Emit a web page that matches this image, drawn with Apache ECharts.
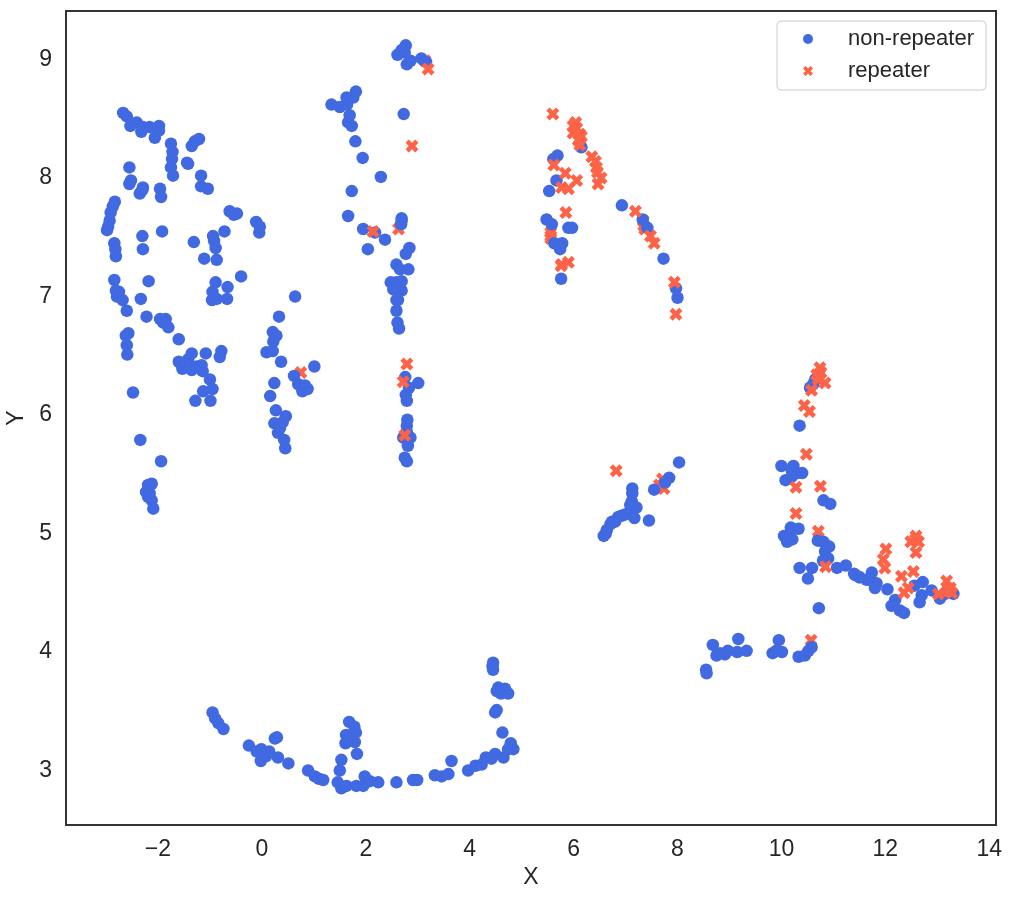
<!DOCTYPE html>
<html>
<head>
<meta charset="utf-8">
<title>scatter</title>
<style>
  html, body { margin: 0; padding: 0; background: #fff; }
  #main { width: 1012px; height: 900px; }
</style>
<script src="https://cdn.jsdelivr.net/npm/echarts@6/dist/echarts.min.js"></script>
</head>
<body>
<div id="main"></div>
<script>
const xTicks = [-2, 0, 2, 4, 6, 8, 10, 12, 14];
const yTicks = [3, 4, 5, 6, 7, 8, 9];

// left hand clusters first
const blueLeft = [
  [-2.67,8.55],[-2.60,8.52],[-2.53,8.44],[-2.41,8.47],[-2.32,8.39],[-2.29,8.43],[-2.16,8.43],[-2.06,8.34],[-1.98,8.44],[-1.98,8.40],
  [-1.75,8.29],[-1.72,8.22],[-1.73,8.16],[-1.75,8.09],[-1.71,8.02],[-1.21,8.33],[-1.29,8.31],[-1.35,8.27],[-1.42,8.12],[-1.44,8.13],
  [-1.17,8.02],[-1.17,7.93],[-1.04,7.91],[-2.55,8.09],[-2.52,7.98],[-2.55,7.95],[-2.29,7.92],[-2.35,7.87],[-2.30,7.90],[-1.96,7.91],
  [-1.94,7.84],[-2.83,7.80],[-2.87,7.76],[-2.91,7.71],[-2.93,7.64],[-2.96,7.59],[-2.98,7.56],[-2.84,7.45],[-2.82,7.40],[-2.81,7.34],
  [-2.30,7.51],[-2.29,7.40],[-1.92,7.55],[-1.31,7.46],[-1.11,7.32],[-0.87,7.31],[-0.94,7.51],[-0.92,7.47],[-0.89,7.41],[-0.72,7.55],
  [-0.62,7.72],[-0.54,7.69],[-0.48,7.70],[-0.11,7.63],[-0.04,7.59],[-0.05,7.54],[-2.84,7.14],[-2.18,7.13],[-2.81,7.05],[-2.75,7.04],
  [-2.79,7.00],[-2.68,6.97],[-2.33,6.98],[-2.60,6.88],[-2.22,6.83],[-0.89,7.12],[-0.66,7.08],[-0.95,7.04],[-0.67,6.98],[-0.96,6.97],
  [-0.87,6.98],[-0.40,7.17],[0.64,7.00],[0.33,6.83],[-1.96,6.81],[-1.85,6.81],[-1.90,6.78],[-1.80,6.74],[-1.60,6.64],[-2.57,6.69],
  [-2.62,6.67],[-2.60,6.59],[-2.59,6.51],[-2.48,6.19],[-2.34,5.79],[-1.94,5.61],[-2.12,5.42],[-2.19,5.41],[-2.23,5.35],[-2.16,5.34],
  [-2.12,5.28],[-2.09,5.21],[-2.19,5.31],[-1.35,6.52],[-1.42,6.47],[-1.60,6.45],[-1.53,6.39],[-1.35,6.38],[-1.26,6.41],[-1.16,6.42],
  [-1.14,6.37],[-1.08,6.52],[-0.78,6.54],[-0.81,6.49],[-1.00,6.30],[-0.95,6.22],[-1.13,6.20],[-1.28,6.12],[-0.99,6.12],[0.21,6.70],
  [0.28,6.67],[0.22,6.62],[0.09,6.53],[0.21,6.54],[0.37,6.45],[1.01,6.41],[0.62,6.33],[0.24,6.27],[0.70,6.26],[0.83,6.25],
  [0.88,6.22],[0.78,6.20],[0.16,6.16],[0.27,6.04],[0.46,5.99],[0.24,5.93],[0.40,5.94],[0.31,5.85],[0.43,5.79],[0.45,5.72],[0.35,5.89]
];
const blueMiddle = [
  [2.77,9.12],[2.69,9.08],[2.61,9.04],[2.75,9.06],[2.79,8.96],[2.86,8.99],[3.07,9.01],[3.16,8.98],[2.73,8.54],[1.81,8.73],
  [1.76,8.68],[1.63,8.68],[1.34,8.62],[1.50,8.60],[1.64,8.62],[1.69,8.53],[1.66,8.47],[1.73,8.44],[1.80,8.31],[1.94,8.17],
  [2.29,8.01],[1.73,7.89],[1.66,7.68],[1.95,7.57],[2.18,7.54],[2.37,7.48],[2.04,7.40],[2.69,7.66],[2.68,7.61],[2.69,7.64],
  [2.84,7.41],[2.77,7.36],[2.59,7.27],[2.66,7.23],[2.82,7.23],[2.48,7.12],[2.59,7.12],[2.69,7.13],[2.53,7.06],[2.69,7.05],
  [2.61,7.06],[2.59,6.97],[2.62,6.97],[2.59,6.88],[2.61,6.78],[2.64,6.73],[2.76,6.32],[3.01,6.27],[2.83,6.23],[2.77,6.17],
  [2.79,6.12],[2.80,5.96],[2.79,5.91],[2.79,5.86],[2.72,5.81],[2.86,5.81],[2.81,5.74],[2.75,5.64],[2.79,5.61]
];
const blueBottom = [
  [-0.95,3.49],[-0.90,3.44],[-0.84,3.40],[-0.74,3.35],[-0.25,3.21],[-0.01,3.18],[-0.10,3.16],[0.14,3.16],[-0.02,3.08],[0.03,3.14],
  [0.08,3.12],[0.25,3.27],[0.29,3.28],[0.31,3.11],[0.51,3.06],[0.89,3.00],[1.02,2.95],[1.10,2.93],[1.18,2.92],[1.46,2.90],
  [1.53,2.85],[1.63,2.87],[1.53,3.09],[1.50,3.00],[1.68,3.41],[1.78,3.37],[1.62,3.30],[1.81,3.32],[1.61,3.23],[1.79,3.24],
  [1.69,3.28],[1.83,3.14],[1.82,2.87],[1.95,2.87],[1.98,2.95],[2.08,2.91],[2.24,2.90],[2.59,2.90],[2.91,2.92],[2.99,2.92],
  [3.33,2.96],[3.46,2.95],[3.59,2.97],[3.65,3.08],[3.97,3.00],[4.11,3.04],[4.23,3.05],[4.31,3.11],[4.42,3.10],[4.49,3.14],
  [4.65,3.11],[4.74,3.18],[4.84,3.18],[4.79,3.23],[4.63,3.32],[4.52,3.51],[4.49,3.49],[4.45,3.91],[4.44,3.88],[4.45,3.85],
  [4.55,3.70],[4.52,3.67],[4.60,3.65],[4.68,3.69],[4.74,3.65]
];
const blueRight = [
  [6.15,8.26],[5.69,8.19],[5.61,8.16],[5.67,7.98],[5.53,7.89],[6.93,7.77],[7.33,7.65],[7.42,7.58],[7.73,7.32],[7.97,7.07],
  [8.00,6.99],[5.48,7.65],[5.58,7.61],[5.90,7.58],[5.97,7.58],[5.63,7.45],[5.78,7.45],[5.74,7.40],[5.72,7.43],[5.76,7.15],
  [8.03,5.60],[7.84,5.47],[7.76,5.43],[7.55,5.37],[7.45,5.11],[7.13,5.38],[7.13,5.34],[7.12,5.27],[7.09,5.24],[7.21,5.22],
  [7.17,5.13],[7.09,5.19],[6.99,5.16],[6.86,5.14],[6.80,5.10],[6.71,5.08],[6.64,5.03],[6.58,4.98],[6.62,5.00],[6.74,5.10],
  [6.92,5.15],[7.12,5.17],[10.65,6.30],[10.55,6.23],[10.61,6.26],[10.35,5.91],[10.00,5.57],[10.23,5.57],[10.20,5.53],[10.40,5.51],
  [10.30,5.51],[10.08,5.45],[10.20,5.48],[10.81,5.28],[10.94,5.25],[10.18,5.05],[10.33,5.04],[10.05,4.98],[10.21,4.95],[10.11,4.93],
  [10.17,5.00],[10.70,4.94],[10.81,4.93],[10.92,4.89],[10.84,4.85],[10.90,4.79],[10.80,4.77],[10.35,4.71],[10.59,4.71],[10.51,4.62],
  [11.07,4.71],[11.24,4.73],[11.40,4.66],[11.51,4.63],[11.64,4.61],[10.72,4.37],[11.42,4.65],[11.50,4.63],[11.74,4.67],[11.71,4.61],
  [11.83,4.58],[11.80,4.54],[12.04,4.53],[12.19,4.44],[12.12,4.39],[12.28,4.35],[12.36,4.33],[12.56,4.56],[12.72,4.59],[12.70,4.48],
  [12.66,4.42],[12.89,4.52],[13.05,4.45],[13.21,4.54],[13.31,4.49],[13.15,4.49],[8.55,3.85],[8.56,3.82],[8.68,4.06],[8.75,3.97],
  [8.82,3.99],[8.97,4.01],[8.91,3.98],[9.17,4.11],[9.15,4.00],[9.33,4.01],[9.95,4.10],[9.83,3.99],[10.01,4.00],[9.90,4.01],
  [10.33,3.96],[10.45,3.97],[10.52,4.01],[10.58,4.04]
];
const nonRepeater = [...blueLeft, ...blueMiddle, ...blueBottom, ...blueRight];

// repeaters that sit behind the blue dots
const repeaterBehind = [
  [0.75,6.36],[2.63,7.57],[3.14,8.99],[5.56,7.54],[5.56,7.51],[5.56,7.49],[7.34,7.64],[7.37,7.57],[7.35,7.60],[7.71,5.46],
  [7.74,5.38],[7.65,5.41],[10.71,5.02],[10.57,4.10]
];
// repeaters drawn over them
const repeaterFront = [
  [3.20,8.92],[2.89,8.27],[2.14,7.55],[2.79,6.43],[2.72,6.28],[2.75,5.83],[5.60,8.54],[6.04,8.47],[5.99,8.44],[6.06,8.42],
  [5.99,8.38],[6.12,8.37],[6.09,8.32],[6.12,8.28],[6.15,8.35],[6.35,8.18],[6.42,8.14],[6.44,8.09],[6.46,8.05],[6.53,8.00],
  [6.47,7.95],[5.62,8.11],[5.84,8.04],[6.06,7.98],[5.77,7.92],[5.90,7.91],[5.85,7.71],[5.90,7.29],[5.77,7.27],[5.76,7.26],
  [7.94,7.12],[7.97,6.85],[7.19,7.72],[7.48,7.51],[7.55,7.45],[6.82,5.53],[10.74,6.40],[10.68,6.34],[10.76,6.36],[10.84,6.27],
  [10.71,6.30],[10.58,6.21],[10.44,6.08],[10.54,6.03],[10.48,5.67],[10.75,5.40],[10.28,5.39],[10.28,5.17],[10.85,4.72],[12.59,4.98],
  [12.49,4.93],[12.64,4.93],[12.58,4.95],[12.59,4.84],[12.01,4.87],[11.96,4.78],[11.99,4.71],[12.54,4.68],[12.31,4.64],[12.44,4.54],
  [12.36,4.50],[13.02,4.49],[13.18,4.60],[13.25,4.54],[13.28,4.50],[13.21,4.52]
];

const FONT = '"Liberation Sans", Arial, sans-serif';
const INK = '#262626';
const crossPath = 'path://M-1 -2L0 -1L1 -2L2 -1L1 0L2 1L1 2L0 1L-1 2L-2 1L-1 0L-2 -1Z';

const axis = {
  axisLine: { show: false },
  axisTick: { show: false },
  splitLine: { show: false },
  nameLocation: 'middle',
  nameTextStyle: { color: INK, fontSize: 23, fontFamily: FONT }
};
const axisLabel = {
  color: INK,
  fontSize: 23,
  fontFamily: FONT,
  formatter: v => String(v).replace('-', '\u2212')
};
const dot = {
  type: 'scatter',
  symbol: 'circle',
  symbolSize: 12.5,
  itemStyle: { color: '#4169E1', opacity: 1 }
};
const cross = {
  type: 'scatter',
  symbol: crossPath,
  symbolSize: 13,
  itemStyle: { color: '#FF6347', opacity: 1 }
};

const chart = echarts.init(document.getElementById('main'), null, { renderer: 'canvas' });
chart.setOption({
  animation: false,
  backgroundColor: '#fff',
  grid: {
    show: true,
    outerBoundsMode: 'none',
    left: 66,
    top: 11,
    width: 930,
    height: 814,
    borderColor: '#333',
    borderWidth: 2,
    backgroundColor: 'transparent'
  },
  legend: {
    data: [
      { name: 'non-repeater', icon: 'circle' },
      { name: 'repeater', icon: crossPath }
    ],
    orient: 'vertical',
    right: 26,
    top: 21,
    itemWidth: 20,
    itemHeight: 10,
    itemGap: 10,
    padding: [7, 12, 8, 26],
    borderColor: '#ccc',
    borderWidth: 1,
    borderRadius: 4,
    backgroundColor: '#fff',
    textStyle: { color: INK, fontSize: 22, fontFamily: FONT, padding: [0, 0, 0, 25] }
  },
  xAxis: {
    ...axis,
    type: 'value',
    min: -3.77,
    max: 14.13,
    name: 'X',
    nameGap: 41,
    axisLabel: { ...axisLabel, margin: 13, showMinLabel: true, showMaxLabel: true, customValues: xTicks }
  },
  yAxis: {
    ...axis,
    type: 'value',
    min: 2.54,
    max: 9.41,
    name: 'Y',
    nameGap: 32,
    axisLabel: { ...axisLabel, margin: 14, verticalAlign: 'middle', padding: [8, 0, 0, 0], customValues: yTicks }
  },
  series: [
    { ...cross, name: 'repeater', z: 2, data: repeaterBehind },
    { ...dot, name: 'non-repeater', z: 3, data: nonRepeater },
    { ...cross, name: 'repeater', z: 4, data: repeaterFront }
  ]
});
</script>
</body>
</html>
